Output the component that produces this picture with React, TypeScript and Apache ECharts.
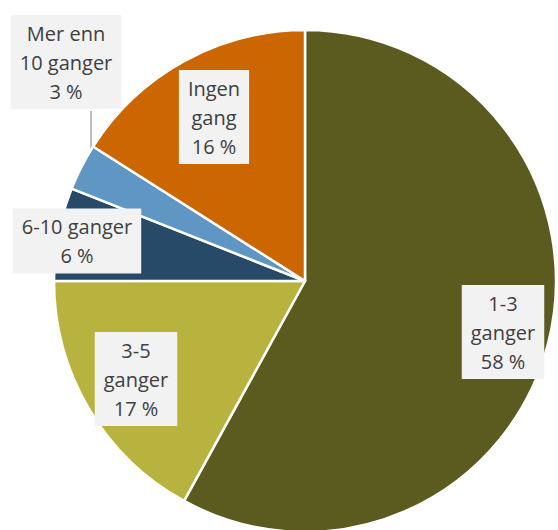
import React, { useEffect, useRef } from "react";
import * as echarts from "echarts";

const categories = ["1-3 ganger", "3-5 ganger", "6-10 ganger", "Mer enn 10 ganger", "Ingen gang"];
const values = [58, 17, 6, 3, 16];
const labelTexts = ["1-3\nganger", "3-5\nganger", "6-10 ganger", "Mer enn\n10 ganger", "Ingen\ngang"];
const colors = ["#5b5a1f", "#b8b33e", "#284a69", "#6096c4", "#cc6600"];
const labelPos: [number, number][] = [
  [503, 332],
  [136, 379],
  [77, 241],
  [66, 62],
  [214, 117],
];
const leaderLine: number[][] = [
  [91, 148],
  [91, 130],
  [91, 111],
];

export default function App() {
  const ref = useRef<HTMLDivElement>(null);
  useEffect(() => {
    if (!ref.current) return;
    const chart = echarts.init(ref.current, undefined, { renderer: "svg" });
    chart.setOption({
      animation: false,
      series: [
        {
          type: "pie",
          center: [305, 281],
          radius: 251,
          startAngle: 90,
          clockwise: true,
          avoidLabelOverlap: false,
          emphasis: { disabled: true },
          itemStyle: { borderColor: "#ffffff", borderWidth: 2.5 },
          label: {
            show: true,
            position: "outside",
            formatter: (p: any) => `${labelTexts[p.dataIndex]}\n${p.value} %`,
            fontFamily: "Open Sans",
            fontSize: 20,
            lineHeight: 29,
            color: "#404040",
            backgroundColor: "#f2f2f2",
            padding: [4, 9, 3, 9],
            align: "center",
          },
          labelLine: { show: false, lineStyle: { color: "#a6a6a6", width: 1.5 } },
          labelLayout: (p: any) => {
            const res: any = {
              x: labelPos[p.dataIndex][0],
              y: labelPos[p.dataIndex][1],
              align: "center",
              verticalAlign: "middle",
            };
            if (p.dataIndex === 3) res.labelLinePoints = leaderLine;
            return res;
          },
          data: categories.map((name, i) => ({
            name,
            value: values[i],
            itemStyle: { color: colors[i] },
            labelLine: i === 3 ? { show: true, length: 5, length2: 5 } : { show: false },
          })),
        },
      ],
    });
    return () => chart.dispose();
  }, []);
  return (
    <div
      ref={ref}
      style={{ position: "fixed", left: 0, top: 0, width: 558, height: 530, background: "#ffffff" }}
    />
  );
}
